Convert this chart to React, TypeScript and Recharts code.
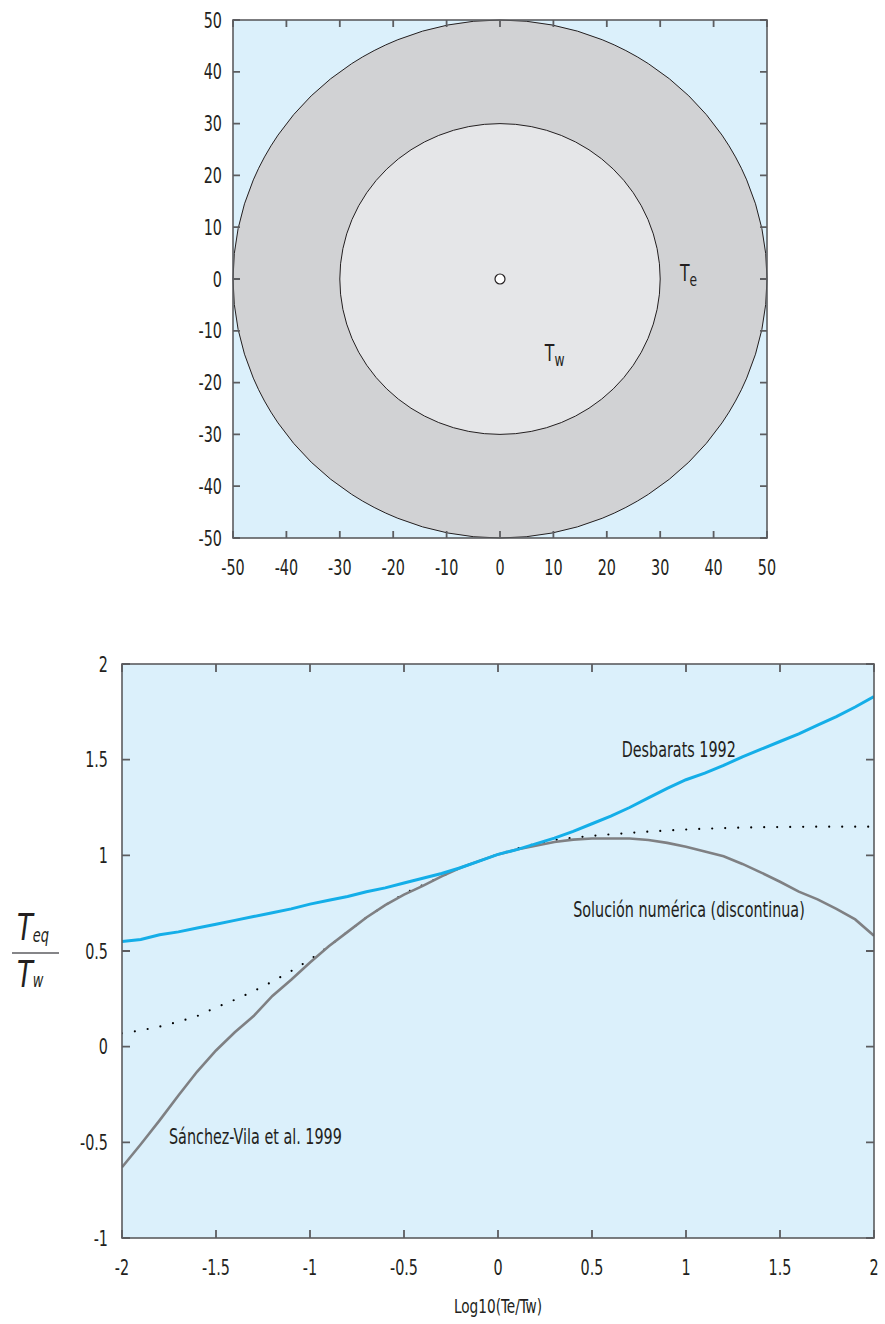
import React from "react";
import {
  ScatterChart,
  Scatter,
  LineChart,
  Line,
  XAxis,
  YAxis,
  ReferenceArea,
  ReferenceDot,
} from "recharts";

const FONT = "'DejaVu Sans Condensed', 'DejaVu Sans', sans-serif";
const SQUEEZE = 0.76; // horizontal squeeze for a narrow, tall face
const INK = "#231f20";
const FRAME = "#5c5d60";
const SKY = "#dbf0fb";

// planta: zonas concéntricas
const zoneTicks = [-50, -40, -30, -20, -10, 0, 10, 20, 30, 40, 50];
const zoneDomain = [-50, 50];
const outerRadius = 50;
const innerRadius = 30;
const wellPoint = [{ x: 0, y: 0 }];

// T_eq / T_w frente a log10(Te/Tw)
const logRatio = [
  -2, -1.9, -1.8, -1.7, -1.6, -1.5, -1.4, -1.3, -1.2, -1.1, -1, -0.9, -0.8, -0.7,
  -0.6, -0.5, -0.4, -0.3, -0.2, -0.1, 0, 0.1, 0.2, 0.3, 0.4, 0.5, 0.6, 0.7, 0.8,
  0.9, 1, 1.1, 1.2, 1.3, 1.4, 1.5, 1.6, 1.7, 1.8, 1.9, 2,
];
const desbarats = [
  0.55, 0.56, 0.585, 0.6, 0.62, 0.64, 0.66, 0.68, 0.7, 0.72, 0.745, 0.765, 0.785,
  0.81, 0.83, 0.855, 0.88, 0.905, 0.935, 0.97, 1.005, 1.03, 1.06, 1.09, 1.125,
  1.165, 1.205, 1.25, 1.3, 1.35, 1.395, 1.43, 1.47, 1.515, 1.555, 1.595, 1.635,
  1.68, 1.725, 1.775, 1.83,
];
const numerica = [
  -0.63, -0.51, -0.385, -0.255, -0.13, -0.02, 0.075, 0.16, 0.265, 0.35, 0.44,
  0.525, 0.6, 0.675, 0.74, 0.795, 0.84, 0.89, 0.935, 0.97, 1.005, 1.03, 1.05,
  1.07, 1.082, 1.088, 1.088, 1.088, 1.08, 1.065, 1.045, 1.02, 0.995, 0.955, 0.91,
  0.862, 0.81, 0.77, 0.72, 0.665, 0.58,
];
const sanchezVila = [
  0.07, 0.085, 0.105, 0.13, 0.16, 0.205, 0.245, 0.29, 0.34, 0.395, 0.455, 0.525,
  0.6, 0.675, 0.74, 0.8, 0.845, 0.89, 0.935, 0.97, 1.005, 1.035, 1.06, 1.08, 1.092,
  1.102, 1.11, 1.117, 1.124, 1.13, 1.135, 1.139, 1.142, 1.145, 1.147, 1.148,
  1.149, 1.15, 1.15, 1.15, 1.15,
];
const ratioTicks = [-2, -1.5, -1, -0.5, 0, 0.5, 1, 1.5, 2];
const eqTicks = [-1, -0.5, 0, 0.5, 1, 1.5, 2];
const ratioDomain = [-2, 2];
const eqDomain = [-1, 2];

const curveData = logRatio.map((x, i) => ({
  x,
  desbarats: desbarats[i],
  numerica: numerica[i],
  sanchez: sanchezVila[i],
}));

function NarrowText({ x, y, anchor = "start", size = 21, children }: any) {
  return (
    <g transform={`translate(${x},${y}) scale(${SQUEEZE},1)`}>
      <text x={0} y={0} textAnchor={anchor} fill={INK} fontFamily={FONT} fontSize={size}>
        {children}
      </text>
    </g>
  );
}

const xTick = (p: any) => (
  <NarrowText x={p.x} y={p.y + 37} anchor="middle">
    {String(p.payload.value)}
  </NarrowText>
);

const yTick = (gap: number) => (p: any) => (
  <NarrowText x={p.x - gap} y={p.y + 7.5} anchor="end">
    {String(p.payload.value)}
  </NarrowText>
);

// box outline with short inward tick marks on all four sides;
// the ReferenceArea spans the full domain, so ticks are placed along its rect
const framedBox = (xt: number[], yt: number[], xd: number[], yd: number[], len: number) => (p: any) => {
  const left = Number(p.x);
  const top = Number(p.y);
  const w = Number(p.width);
  const h = Number(p.height);
  const right = left + w;
  const bottom = top + h;
  const px = (t: number) => left + ((t - xd[0]) / (xd[1] - xd[0])) * w;
  const py = (t: number) => bottom - ((t - yd[0]) / (yd[1] - yd[0])) * h;
  let d = "";
  xt.forEach((t) => {
    const x = px(t);
    d += `M${x},${bottom}V${bottom - len}M${x},${top}V${top + len}`;
  });
  yt.forEach((t) => {
    const y = py(t);
    d += `M${left},${y}H${left + len}M${right},${y}H${right - len}`;
  });
  return (
    <g>
      <path d={d} fill="none" stroke={FRAME} strokeWidth={1.8} />
      <rect x={left} y={top} width={w} height={h} fill="none" stroke={FRAME} strokeWidth={1.6} />
    </g>
  );
};

// círculo inscrito en el rectángulo que devuelve ReferenceArea
const disc = (fill: string) => (p: any) => (
  <ellipse
    cx={p.x + p.width / 2}
    cy={p.y + p.height / 2}
    rx={Math.abs(p.width) / 2}
    ry={Math.abs(p.height) / 2}
    fill={fill}
    stroke={INK}
    strokeWidth={1}
  />
);

const subLabel = (main: string, sub: string) => (p: any) => (
  <g transform={`translate(${p.cx},${p.cy}) scale(${SQUEEZE},1)`}>
    <text x={0} y={0} fill={INK} fontFamily={FONT} fontSize={23}>
      {main}
      <tspan fontSize={18} dy={5}>
        {sub}
      </tspan>
    </text>
  </g>
);

const plainLabel = (value: string) => (p: any) => (
  <NarrowText x={p.cx} y={p.cy}>
    {value}
  </NarrowText>
);

function FractionLabel(props: any) {
  const vb = props.viewBox;
  const cy = vb.y + vb.height / 2;
  const x = vb.x - 45;
  return (
    <g>
      <g transform={`translate(${x},${cy - 11}) scale(${SQUEEZE},1)`}>
        <text x={0} y={0} fill={INK} fontFamily={FONT} fontSize={38} fontStyle="italic">
          T<tspan fontSize={19} dy={2}>eq</tspan>
        </text>
      </g>
      <line x1={x - 5} x2={x + 42} y1={cy + 2} y2={cy + 2} stroke={FRAME} strokeWidth={1.5} />
      <g transform={`translate(${x},${cy + 36}) scale(${SQUEEZE},1)`}>
        <text x={0} y={0} fill={INK} fontFamily={FONT} fontSize={38} fontStyle="italic">
          T<tspan fontSize={19}>w</tspan>
        </text>
      </g>
    </g>
  );
}

function AxisTitle(props: any) {
  const vb = props.viewBox;
  return (
    <NarrowText x={vb.x + vb.width / 2} y={vb.y + vb.height - 11} anchor="middle" size={20}>
      Log10(Te/Tw)
    </NarrowText>
  );
}

function ZonesChart() {
  return (
    <ScatterChart width={885} height={600} margin={{ top: 20, right: 118, bottom: 12, left: 173 }}>
      <ReferenceArea
        x1={zoneDomain[0]}
        x2={zoneDomain[1]}
        y1={zoneDomain[0]}
        y2={zoneDomain[1]}
        fill={SKY}
        fillOpacity={1}
        stroke="none"
        zIndex={10}
      />
      <ReferenceArea
        x1={-outerRadius}
        x2={outerRadius}
        y1={-outerRadius}
        y2={outerRadius}
        shape={disc("#d1d2d4")}
        zIndex={20}
      />
      <ReferenceArea
        x1={-innerRadius}
        x2={innerRadius}
        y1={-innerRadius}
        y2={innerRadius}
        shape={disc("#e5e6e8")}
        zIndex={30}
      />
      <XAxis
        type="number"
        dataKey="x"
        domain={zoneDomain}
        allowDataOverflow
        ticks={zoneTicks}
        interval={0}
        height={50}
        tickLine={false}
        tickSize={0}
        tickMargin={0}
        axisLine={false}
        tick={xTick}
      />
      <YAxis
        type="number"
        dataKey="y"
        domain={zoneDomain}
        allowDataOverflow
        ticks={zoneTicks}
        interval={0}
        width={60}
        tickLine={false}
        tickSize={0}
        tickMargin={0}
        axisLine={false}
        tick={yTick(11)}
      />
      <Scatter
        data={wellPoint}
        isAnimationActive={false}
        zIndex={600}
        shape={(p: any) => (
          <circle cx={p.cx} cy={p.cy} r={5} fill="#ffffff" stroke={INK} strokeWidth={1.2} />
        )}
      />
      <ReferenceArea
        x1={zoneDomain[0]}
        x2={zoneDomain[1]}
        y1={zoneDomain[0]}
        y2={zoneDomain[1]}
        shape={framedBox(zoneTicks, zoneTicks, zoneDomain, zoneDomain, 7)}
        zIndex={1500}
      />
      <ReferenceDot x={33.7} y={-0.4} r={0} zIndex={2000} shape={subLabel("T", "e")} />
      <ReferenceDot x={8.4} y={-15.8} r={0} zIndex={2000} shape={subLabel("T", "w")} />
    </ScatterChart>
  );
}

function RatioChart() {
  return (
    <LineChart
      width={885}
      height={724}
      data={curveData}
      margin={{ top: 64, right: 11, bottom: 0, left: 62 }}
    >
      <ReferenceArea
        x1={ratioDomain[0]}
        x2={ratioDomain[1]}
        y1={eqDomain[0]}
        y2={eqDomain[1]}
        fill={SKY}
        fillOpacity={1}
        stroke="none"
        zIndex={10}
      />
      <XAxis
        type="number"
        dataKey="x"
        domain={ratioDomain}
        allowDataOverflow
        ticks={ratioTicks}
        interval={0}
        height={86}
        tickLine={false}
        tickSize={0}
        tickMargin={0}
        axisLine={false}
        tick={xTick}
        label={{ content: AxisTitle }}
      />
      <YAxis
        type="number"
        domain={eqDomain}
        allowDataOverflow
        ticks={eqTicks}
        interval={0}
        width={60}
        tickLine={false}
        tickSize={0}
        tickMargin={0}
        axisLine={false}
        tick={yTick(14)}
        label={{ content: FractionLabel }}
      />
      {/* Sánchez-Vila et al. 1999 (punteada) */}
      <Line
        type="linear"
        dataKey="sanchez"
        stroke="#000000"
        strokeWidth={2.2}
        strokeDasharray="0 13"
        strokeLinecap="round"
        dot={false}
        activeDot={false}
        isAnimationActive={false}
        zIndex={601}
      />
      {/* solución numérica */}
      <Line
        type="linear"
        dataKey="numerica"
        stroke="#7f8083"
        strokeWidth={2.6}
        dot={false}
        activeDot={false}
        isAnimationActive={false}
        zIndex={602}
      />
      {/* Desbarats 1992 */}
      <Line
        type="linear"
        dataKey="desbarats"
        stroke="#14aee8"
        strokeWidth={3}
        dot={false}
        activeDot={false}
        isAnimationActive={false}
        zIndex={603}
      />
      <ReferenceArea
        x1={ratioDomain[0]}
        x2={ratioDomain[1]}
        y1={eqDomain[0]}
        y2={eqDomain[1]}
        shape={framedBox(ratioTicks, eqTicks, ratioDomain, eqDomain, 8)}
        zIndex={1500}
      />
      <ReferenceDot x={0.658} y={1.514} r={0} zIndex={2000} shape={plainLabel("Desbarats 1992")} />
      <ReferenceDot
        x={0.4}
        y={0.679}
        r={0}
        zIndex={2000}
        shape={plainLabel("Solución numérica (discontinua)")}
      />
      <ReferenceDot
        x={-1.75}
        y={-0.509}
        r={0}
        zIndex={2000}
        shape={plainLabel("Sánchez-Vila et al. 1999")}
      />
    </LineChart>
  );
}

export default function App() {
  return (
    <div
      style={{
        position: "absolute",
        left: 0,
        top: 0,
        width: 885,
        height: 1324,
        background: "#ffffff",
        overflow: "hidden",
      }}
    >
      <div style={{ position: "absolute", left: 0, top: 0 }}>
        <ZonesChart />
      </div>
      <div style={{ position: "absolute", left: 0, top: 600 }}>
        <RatioChart />
      </div>
    </div>
  );
}
